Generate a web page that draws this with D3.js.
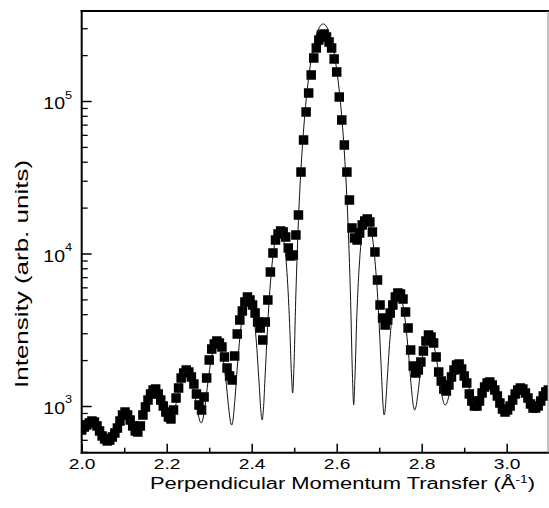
<!DOCTYPE html>
<html><head><meta charset="utf-8">
<script src="https://cdn.jsdelivr.net/npm/d3@7"></script>
<style>
body{margin:0;background:#fff;}
svg{display:block;}
text{font-family:"Liberation Sans",Arial,Helvetica,sans-serif;fill:#000;}
</style></head><body>
<svg id="chart" width="549" height="508"></svg>
<script>
// ---- data ----
const qData = [
2.000,2.006,2.012,2.018,2.024,2.030,2.036,2.042,2.048,2.054,
2.060,2.066,2.072,2.078,2.084,2.090,2.096,2.102,2.108,2.114,
2.120,2.126,2.132,2.138,2.144,2.150,2.156,2.162,2.168,2.174,
2.180,2.186,2.192,2.198,2.204,2.210,2.216,2.222,2.228,2.234,
2.240,2.246,2.252,2.258,2.264,2.270,2.276,2.282,2.288,2.294,
2.300,2.306,2.312,2.318,2.324,2.330,2.336,2.342,2.348,2.354,
2.360,2.366,2.372,2.378,2.384,2.390,2.396,2.402,2.408,2.414,
2.420,2.426,2.432,2.438,2.444,2.450,2.456,2.462,2.468,2.474,
2.480,2.486,2.492,2.498,2.504,2.510,2.516,2.522,2.528,2.534,
2.540,2.546,2.552,2.558,2.564,2.570,2.576,2.582,2.588,2.594,
2.600,2.606,2.612,2.618,2.624,2.630,2.636,2.642,2.648,2.654,
2.660,2.666,2.672,2.678,2.684,2.690,2.696,2.702,2.708,2.714,
2.720,2.726,2.732,2.738,2.744,2.750,2.756,2.762,2.768,2.774,
2.780,2.786,2.792,2.798,2.804,2.810,2.816,2.822,2.828,2.834,
2.840,2.846,2.852,2.858,2.864,2.870,2.876,2.882,2.888,2.894,
2.900,2.906,2.912,2.918,2.924,2.930,2.936,2.942,2.948,2.954,
2.960,2.966,2.972,2.978,2.984,2.990,2.996,3.002,3.008,3.014,
3.020,3.026,3.032,3.038,3.044,3.050,3.056,3.062,3.068,3.074,
3.080,3.086,3.092,3.098];
const intensityData = [
696,728,751,774,797,785,740,686,636,608,
590,598,626,665,717,797,873,913,873,809,
740,686,675,740,873,985,1094,1199,1273,1292,
1199,1094,1000,913,847,822,941,1128,1312,1526,
1646,1722,1671,1550,1394,1199,1015,941,1146,1526,
2003,2364,2550,2668,2589,2437,2096,1775,1573,1481,
2128,2966,3664,4198,4808,5185,4956,4595,4072,3554,
3247,2709,3554,4956,7562,10077,12260,13425,14045,13836,
12830,10867,9630,9777,13222,17886,34220,55500,84740,112840,
148120,191430,222660,251190,270900,275000,262900,243800,222660,188600,
155000,106200,75080,51470,34220,22430,14700,12640,12260,13630,
15380,16340,16840,16090,13836,10230,6702,4595,3776,3397,
3664,4072,4595,5185,5508,5425,5029,4134,3247,2329,
1829,1646,1722,1943,2294,2668,2921,2834,2589,2096,
1671,1458,1292,1254,1373,1550,1722,1857,1885,1748,
1573,1415,1199,1078,1000,1000,1078,1217,1332,1415,
1437,1373,1273,1163,1046,955,913,941,1000,1094,
1199,1273,1312,1292,1217,1128,1031,970,970,1000,
1078,1163,1236,1273];

const qFit = [
2.2094,2.2123,2.2166,2.2238,2.2310,2.2381,2.2453,2.2525,2.2597,2.2669,2.2740,2.2783,2.2812,
2.2840,2.2883,2.2955,2.3027,2.3098,2.3170,2.3242,2.3314,2.3386,2.3457,2.3500,2.3529,
2.3558,2.3601,2.3673,2.3745,2.3816,2.3888,2.3960,2.4032,2.4103,2.4175,2.4218,2.4247,
2.4275,2.4318,2.4390,2.4462,2.4533,2.4605,2.4677,2.4749,2.4821,2.4892,2.4935,2.4964,
2.4993,2.5036,2.5108,2.5180,2.5251,2.5323,2.5395,2.5467,2.5538,2.5610,2.5682,
2.5754,2.5826,2.5897,2.5969,2.6041,2.6113,2.6184,2.6256,2.6328,2.6371,2.6400,
2.6429,2.6472,2.6544,2.6615,2.6687,2.6759,2.6831,2.6902,2.6974,2.7046,2.7089,2.7117,
2.7146,2.7189,2.7261,2.7332,2.7404,2.7476,2.7548,2.7619,2.7691,2.7763,2.7806,2.7835,
2.7864,2.7907,2.7979,2.8050,2.8122,2.8194,2.8266,2.8337,2.8409,2.8481,2.8524,2.8552,
2.8581,2.8624,2.8696,2.8767,2.8839,2.8911,2.8983,2.9054,2.9126,2.9198,2.9241,2.9270];
const intensityFit = [
822,832,891,1092,1361,1601,1720,1665,1449,1150,885,794,774,
796,917,1322,1873,2378,2650,2570,2147,1535,982,790,750,
802,1070,1979,3248,4470,5200,5124,4210,2770,1402,912,810,
945,1624,4005,7549,11298,14000,14540,12407,8145,3481,1624,1216,
1763,5018,18650,44350,82330,130400,183840,236150,280280,309750,320100,
309750,280280,236150,183840,130400,82330,44210,18490,4838,1571,1016,
1522,3783,9438,14611,17216,16600,13378,8893,4656,1819,1022,873,
984,1501,2936,4446,5409,5500,4755,3498,2193,1261,990,942,
985,1185,1759,2393,2832,2920,2645,2131,1570,1158,1037,1016,
1032,1117,1367,1650,1854,1900,1778,1540,1274,1074,1013,1000];

const xTickValues = [2.0,2.2,2.4,2.6,2.8,3.0];
const xMinorTickValues = [2.1,2.3,2.5,2.7,2.9];
const yTickValues = [1e3,1e4,1e5];
const yTickExponents = ["3","4","5"];
const yMinorTickValues = [500,600,700,800,900,2000,3000,4000,5000,6000,7000,8000,9000,
  20000,30000,40000,50000,60000,70000,80000,90000,200000,300000];
const xTitle = "Perpendicular Momentum Transfer (Å";
const xTitleSup = "-1";
const yTitle = "Intensity (arb. units)";

// ---- layout ----
const svg = d3.select("#chart");
const L = 81.7, R = 549.2, T = 11, B = 452.7;
const x = d3.scaleLinear().domain([2.0, 3.1]).range([L, R]);
const y = d3.scaleLog().domain([494, 389300]).range([B, T]);

svg.append("rect").attr("width",549).attr("height",508).attr("fill","#fff");

svg.append("clipPath").attr("id","plotclip").append("rect")
  .attr("x",L).attr("y",T).attr("width",548-L).attr("height",B-T);

const plot = svg.append("g").attr("clip-path","url(#plotclip)");
const ms = 9.5;
plot.selectAll("rect.pt").data(qData.map((q,i)=>[q,intensityData[i]])).join("rect")
  .attr("class","pt")
  .attr("x",d=>x(d[0])-ms/2).attr("y",d=>y(d[1])-ms/2)
  .attr("width",ms).attr("height",ms).attr("fill","#000");

const line = d3.line().x(d=>x(d[0])).y(d=>y(d[1])).curve(d3.curveMonotoneX);
plot.append("path").datum(qFit.map((q,i)=>[q,intensityFit[i]]))
  .attr("d",line).attr("fill","none").attr("stroke","#111").attr("stroke-width",1);

// ---- axes ----
const xAxis = svg.append("g").attr("transform",`translate(0,${B})`)
  .call(d3.axisBottom(x).tickValues(xTickValues).tickSize(-9).tickPadding(5.5).tickFormat(d3.format(".1f")));
xAxis.select(".domain").remove();
xAxis.selectAll(".tick line").attr("stroke-width",1.5);
xAxis.selectAll(".tick text").attr("font-size",15).attr("font-family",null)
  .attr("transform","scale(1.28,1)");
const xMinor = svg.append("g").attr("transform",`translate(0,${B})`)
  .call(d3.axisBottom(x).tickValues(xMinorTickValues).tickSize(-5).tickFormat(()=>""));
xMinor.select(".domain").remove();
xMinor.selectAll(".tick line").attr("stroke-width",1.5);

const yAxis = svg.append("g").attr("transform",`translate(${L},0)`)
  .call(d3.axisLeft(y).tickValues(yTickValues).tickSize(-10).tickFormat(()=>""));
yAxis.select(".domain").remove();
yAxis.selectAll(".tick line").attr("stroke-width",1.5);
yAxis.selectAll(".tick").each(function(d,i){
  const t = d3.select(this).append("g").attr("transform","translate(-9.5,0) scale(1.22,1)")
    .append("text").attr("text-anchor","end").attr("y",7.5).attr("font-size",16);
  t.append("tspan").text("10");
  t.append("tspan").attr("font-size",10.5).attr("dy",-10.5).text(yTickExponents[i]);
});
const yMinor = svg.append("g").attr("transform",`translate(${L},0)`)
  .call(d3.axisLeft(y).tickValues(yMinorTickValues).tickSize(-6).tickFormat(()=>""));
yMinor.select(".domain").remove();
yMinor.selectAll(".tick line").attr("stroke-width",1.3);

// frame
svg.append("line").attr("x1",L).attr("x2",L).attr("y1",T-1).attr("y2",B+1).attr("stroke","#000").attr("stroke-width",2);
svg.append("line").attr("x1",L-1).attr("x2",549).attr("y1",B).attr("y2",B).attr("stroke","#000").attr("stroke-width",2);
svg.append("line").attr("x1",L-1).attr("x2",549).attr("y1",T).attr("y2",T).attr("stroke","#000").attr("stroke-width",2);
svg.append("line").attr("x1",548).attr("x2",548).attr("y1",T).attr("y2",B).attr("stroke","#888").attr("stroke-width",1);

// titles
const xt = svg.append("text").attr("x",342.5).attr("y",488.5).attr("text-anchor","middle")
  .attr("font-size",16).attr("textLength",385).attr("lengthAdjust","spacingAndGlyphs");
xt.append("tspan").text(xTitle);
xt.append("tspan").attr("font-size",10).attr("dy",-6).text(xTitleSup);
xt.append("tspan").attr("dy",6).text(")");

svg.append("text").attr("transform","translate(28,274) rotate(-90)").attr("text-anchor","middle")
  .attr("font-size",18.5).attr("textLength",228).attr("lengthAdjust","spacingAndGlyphs").text(yTitle);
</script>
</body></html>
